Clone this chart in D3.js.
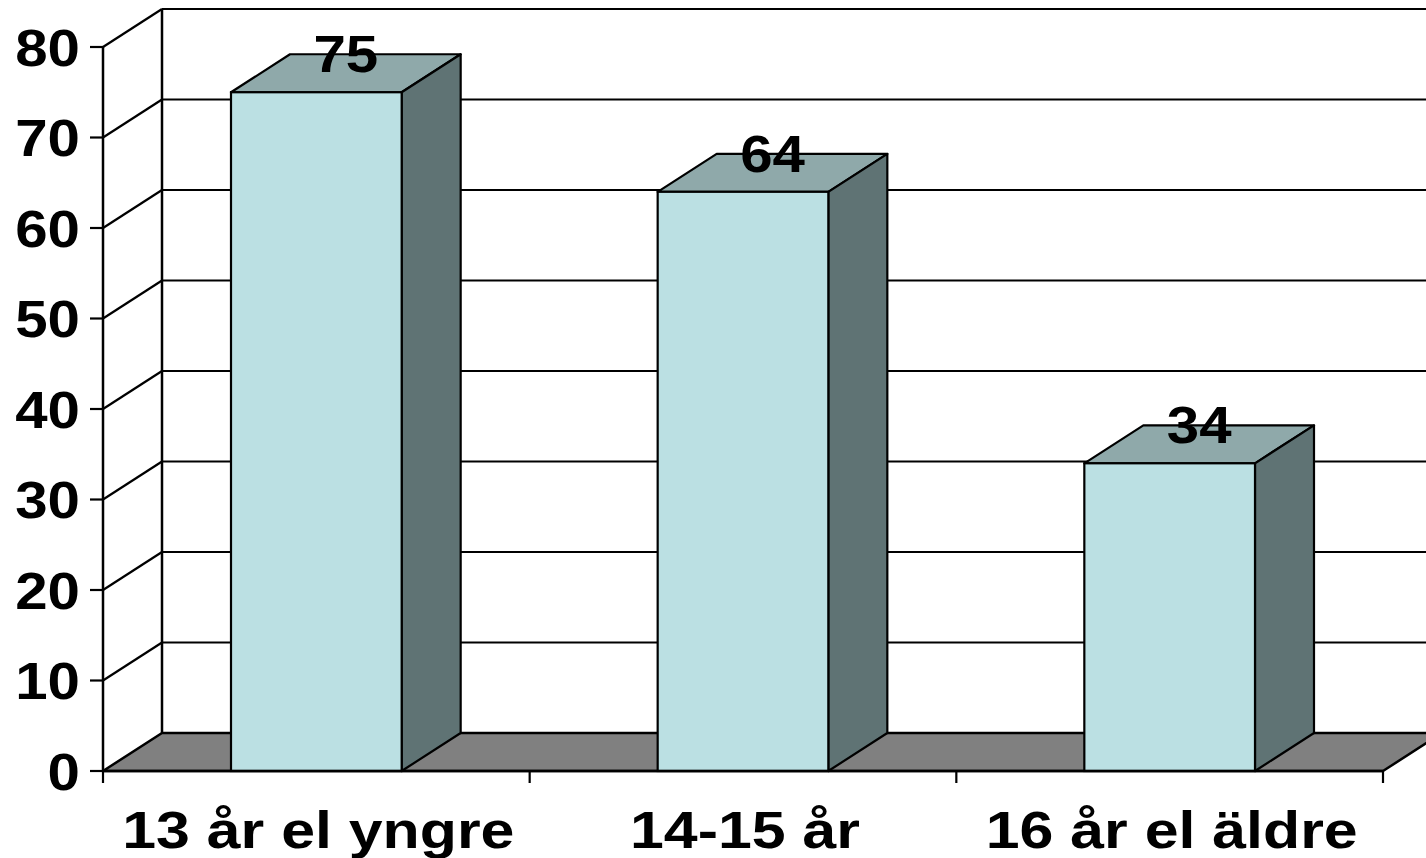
<!DOCTYPE html>
<meta charset="utf-8">
<script src="https://d3js.org/d3.v7.min.js"></script>
<style>
  body { margin: 0; background: #fff; }
  text { font-family: "Liberation Sans", Arial, sans-serif; font-weight: bold; fill: #000; }
</style>
<div id="chart"></div>
<script>
// data
var categories = ["13 år el yngre", "14-15 år", "16 år el äldre"];
var values = [75, 64, 34];
var yTicks = [0, 10, 20, 30, 40, 50, 60, 70, 80];

var W = 1426, H = 858;
var depth = {dx: 59, dy: -38};   // 3d offset of the back wall
var fs = 52;                     // font size of all texts
var stretch = 1.12;              // text in the original is a bit wide
var catStretch = 1.17;

var svg = d3.select("#chart").append("svg")
    .attr("width", W).attr("height", H);

var x = d3.scaleBand()
    .domain(categories)
    .range([103, 1383])
    .paddingInner(0.6)
    .paddingOuter(0.3);
var xAxisBand = d3.scaleBand().domain(categories).range([103, 1383]);

var y = d3.scaleLinear().domain([0, 80]).range([771, 47]);

var x0 = 103, x1 = 1383;

// back wall gridlines
svg.append("g").selectAll("line")
  .data(yTicks)
  .join("line")
    .attr("x1", x0 + depth.dx).attr("x2", W + 60)
    .attr("y1", function(d) { return y(d) + depth.dy; })
    .attr("y2", function(d) { return y(d) + depth.dy; })
    .attr("stroke", "#000").attr("stroke-width", 2.2);

// left wall diagonals
svg.append("g").selectAll("line")
  .data(yTicks.filter(function(d) { return d > 0; }))
  .join("line")
    .attr("x1", x0).attr("y1", function(d) { return y(d); })
    .attr("x2", x0 + depth.dx).attr("y2", function(d) { return y(d) + depth.dy; })
    .attr("stroke", "#000").attr("stroke-width", 2.2);

// back wall left edge
svg.append("line")
    .attr("x1", x0 + depth.dx).attr("x2", x0 + depth.dx)
    .attr("y1", y(80) + depth.dy).attr("y2", y(0) + depth.dy)
    .attr("stroke", "#000").attr("stroke-width", 2.5);

// floor
svg.append("polygon")
    .attr("points", [
      [x0, y(0)], [x1, y(0)],
      [x1 + depth.dx, y(0) + depth.dy], [x0 + depth.dx, y(0) + depth.dy]
    ].join(" "))
    .attr("fill", "#808080").attr("stroke", "#000").attr("stroke-width", 2.5)
    .attr("stroke-linejoin", "round");

// bars
var bars = svg.append("g").selectAll("g")
  .data(categories)
  .join("g");

bars.append("polygon")   // top face
    .attr("points", function(d, i) {
      var l = x(d), r = x(d) + x.bandwidth(), t = y(values[i]);
      return [[l, t], [r, t], [r + depth.dx, t + depth.dy], [l + depth.dx, t + depth.dy]].join(" ");
    })
    .attr("fill", "#8FA9AA").attr("stroke", "#000").attr("stroke-width", 2.2)
    .attr("stroke-linejoin", "round");

bars.append("polygon")   // side face
    .attr("points", function(d, i) {
      var r = x(d) + x.bandwidth(), t = y(values[i]), b = y(0);
      return [[r, t], [r + depth.dx, t + depth.dy], [r + depth.dx, b + depth.dy], [r, b]].join(" ");
    })
    .attr("fill", "#5F7374").attr("stroke", "#000").attr("stroke-width", 2.2)
    .attr("stroke-linejoin", "round");

bars.append("rect")      // front face
    .attr("x", function(d) { return x(d); })
    .attr("y", function(d, i) { return y(values[i]); })
    .attr("width", x.bandwidth())
    .attr("height", function(d, i) { return y(0) - y(values[i]); })
    .attr("fill", "#BBE0E3").attr("stroke", "#000").attr("stroke-width", 2.2);

// value labels on the top faces
bars.append("text")
    .attr("text-anchor", "middle")
    .attr("font-size", fs)
    .attr("transform", function(d, i) {
      var cx = x(d) + x.bandwidth() / 2 + depth.dx / 2;
      var cy = y(values[i]) + depth.dy / 2 - 1;
      return "translate(" + cx + "," + cy + ") scale(" + stretch + ",1)";
    })
    .text(function(d, i) { return values[i]; });

// front axes
svg.append("line")
    .attr("x1", x0).attr("x2", x0).attr("y1", y(80)).attr("y2", y(0))
    .attr("stroke", "#000").attr("stroke-width", 2.5);
svg.append("line")
    .attr("x1", x0).attr("x2", x1).attr("y1", y(0)).attr("y2", y(0))
    .attr("stroke", "#000").attr("stroke-width", 2.5);

// y ticks and labels
var yt = svg.append("g").selectAll("g")
  .data(yTicks)
  .join("g")
    .attr("transform", function(d) { return "translate(0," + y(d) + ")"; });
yt.append("line")
    .attr("x1", 90).attr("x2", x0)
    .attr("stroke", "#000").attr("stroke-width", 2.2);
yt.append("text")
    .attr("text-anchor", "end")
    .attr("font-size", fs)
    .attr("transform", "translate(80,18.5) scale(" + stretch + ",1)")
    .text(function(d) { return d; });

// x ticks
var xTickPos = categories.map(function(c) { return xAxisBand(c); }).concat([x1]);
svg.append("g").selectAll("line")
  .data(xTickPos)
  .join("line")
    .attr("x1", function(d) { return d; }).attr("x2", function(d) { return d; })
    .attr("y1", y(0)).attr("y2", y(0) + 12)
    .attr("stroke", "#000").attr("stroke-width", 2.2);

// category labels
svg.append("g").selectAll("text")
  .data(categories)
  .join("text")
    .attr("text-anchor", "middle")
    .attr("font-size", fs)
    .attr("transform", function(d) {
      var cx = xAxisBand(d) + xAxisBand.bandwidth() / 2 + 2;
      return "translate(" + cx + ",848) scale(" + catStretch + ",1)";
    })
    .text(function(d) { return d; });
</script>
